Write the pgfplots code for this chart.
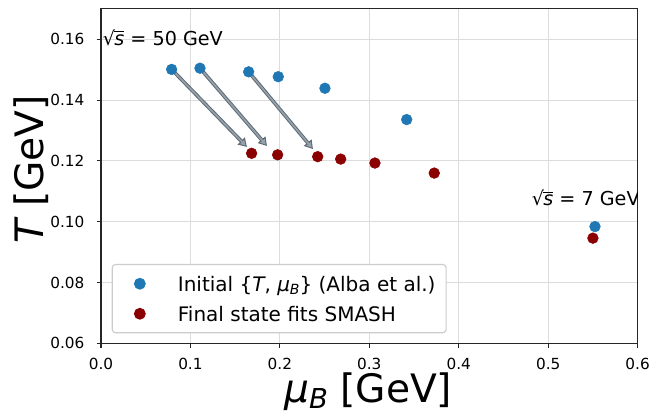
\documentclass[border=0pt]{standalone}
\usepackage{fontspec}
\setmainfont{DejaVu Sans}
\usepackage{graphicx}
\usepackage{pgfplots}
\pgfplotsset{compat=1.18}
\usetikzlibrary{arrows.meta}

\definecolor{tabblue}{HTML}{1F77B4}
\definecolor{fitred}{HTML}{8B0000}
\definecolor{arrowedge}{HTML}{5E6973}
\definecolor{arrowfill}{HTML}{95A1AB}
\definecolor{gridgray}{HTML}{DCDCDC}
\definecolor{legendedge}{HTML}{CCCCCC}

% subscript at 70% of the current size
\newcommand{\sub}[1]{\raisebox{-0.15em}{\scalebox{0.7}{#1}}}
% square root of s, built from the text font
\newcommand{\sqrts}{√\kern-0.04em\vbox{\hrule height 0.06em\kern 0.12em\hbox{\itshape s}}}

\begin{document}
\begin{tikzpicture}
\begin{axis}[
  name=main,
  scale only axis, width=386.4pt, height=240.8pt,
  xmin=0, xmax=0.6, ymin=0.06, ymax=0.17,
  xtick={0,0.1,0.2,0.3,0.4,0.5,0.6},
  ytick={0.06,0.08,0.10,0.12,0.14,0.16},
  xtick pos=left, ytick pos=left,
  grid=major, major grid style={gridgray, line width=0.8pt},
  axis line style={line width=0.8pt, black!85},
  tick style={line width=0.8pt, black!85},
  tick align=outside, major tick length=3.1pt,
  ticklabel style={font=\fontsize{11}{13}\selectfont, inner sep=0pt},
  /pgf/number format/assume math mode=true,
  x tick label style={yshift=-7.2pt, /pgf/number format/.cd, fixed, fixed zerofill, precision=1},
  y tick label style={xshift=-8.6pt, /pgf/number format/.cd, fixed, fixed zerofill, precision=2},
  xlabel={{\itshape μ}\sub{\itshape B} [GeV]},
  ylabel={{\itshape T} [GeV]},
  label style={font=\fontsize{28.2}{33}\selectfont, inner sep=0pt},
  xlabel style={at={(axis description cs:0.498,-0.1775)}, anchor=base},
  ylabel style={at={(axis description cs:-0.108,0.521)}, anchor=base},
  legend style={at={(0.0199,0.0299)}, anchor=south west,
    draw=legendedge, line width=0.8pt, rounded corners=2.5pt, fill=white,
    inner xsep=7.7pt, inner ysep=3pt, row sep=0pt, column sep=0pt,
    font=\fontsize{14.4}{17}\selectfont,
    cells={anchor=base west}, nodes={inner sep=0pt, anchor=base west}},
  legend image code/.code={%
    \path[draw=none, fill=none] (-12.2pt,-5.4pt) rectangle (27.4pt,16.2pt);
    \draw[#1] plot coordinates {(0pt,5.3pt)};},
]

% initial (T, mu_B) values
\addplot[only marks, mark=*, mark size=3.85pt, color=tabblue,
  mark options={draw=none}] table {
x y
0.0790 0.1501
0.1107 0.1505
0.1651 0.1493
0.1982 0.1477
0.2504 0.1439
0.3418 0.1336
0.5523 0.0984
};
\addlegendentry{Initial \{{\itshape T}, {\itshape μ}\sub{\itshape B}\} (Alba et al.)}

% final state fits
\addplot[only marks, mark=*, mark size=3.85pt, color=fitred,
  mark options={draw=none}] table {
x y
0.1684 0.1225
0.1975 0.1220
0.2423 0.1214
0.2680 0.1206
0.3063 0.1193
0.3726 0.1160
0.5500 0.0946
};
\addlegendentry{Final state fits SMASH}

% shift from initial to final values
\addplot[forget plot, no markers, draw=arrowedge, line width=2.6pt,
  -{Triangle[length=6pt,width=7pt]},
  quiver={u=\thisrow{u}, v=\thisrow{v}}] table {
x y u v
0.0790 0.1501 0.0842 -0.0255
0.1107 0.1505 0.0749 -0.0256
0.1651 0.1493 0.0719 -0.0254
};
\addplot[forget plot, no markers, draw=arrowfill, line width=1.2pt,
  shorten >=1.4pt, shorten <=0.8pt,
  -{Triangle[length=3.6pt,width=4pt]},
  quiver={u=\thisrow{u}, v=\thisrow{v}}] table {
x y u v
0.0790 0.1501 0.0842 -0.0255
0.1107 0.1505 0.0749 -0.0256
0.1651 0.1493 0.0719 -0.0254
};

\node[anchor=base west, inner sep=0pt, font=\fontsize{13.8}{16}\selectfont]
  at (axis cs:0.0019,0.1581) {\sqrts{} = 50 GeV};
\node[anchor=base west, inner sep=0pt, font=\fontsize{13.8}{16}\selectfont]
  at (axis cs:0.4815,0.1052) {\sqrts{} = 7 GeV};
\end{axis}
\pgfresetboundingbox
\useasboundingbox ([shift={(-72.7pt,-50.9pt)}]main.south west)
  rectangle ([shift={(8.9pt,6.4pt)}]main.north east);
\end{tikzpicture}
\end{document}
